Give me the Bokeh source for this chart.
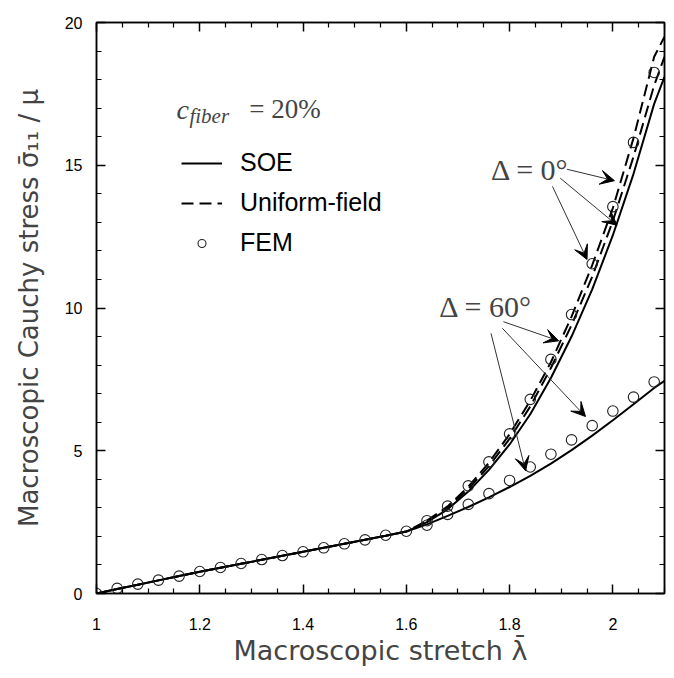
from bokeh.plotting import figure
from bokeh.models import (Range1d, FixedTicker, LinearAxis, Label, Arrow, VeeHead,
                          Legend, LegendItem)
from bokeh.embed import file_html
from bokeh.resources import INLINE

# ---------------- data ----------------
# part shared by every curve (lambda <= 1.6)
lam_common = [1.00, 1.04, 1.08, 1.12, 1.16, 1.20, 1.24, 1.28, 1.32, 1.36,
              1.40, 1.44, 1.48, 1.52, 1.56, 1.60]
line_common = [0.00, 0.16, 0.31, 0.46, 0.61, 0.76, 0.90, 1.04, 1.18, 1.32,
               1.46, 1.60, 1.74, 1.88, 2.02, 2.17]
fem_common = [0.00, 0.18, 0.33, 0.47, 0.61, 0.77, 0.91, 1.05, 1.19, 1.33,
              1.46, 1.60, 1.74, 1.88, 2.04, 2.18]

# branches (lambda > 1.6)
lam_branch = [1.64, 1.68, 1.72, 1.76, 1.80, 1.84, 1.88, 1.92, 1.96, 2.00, 2.04, 2.08, 2.10]
soe_0 = [2.50, 2.95, 3.57, 4.33, 5.22, 6.28, 7.55, 9.00, 10.65, 12.55, 14.70, 17.15, 18.10]
uf_60 = [2.52, 3.00, 3.66, 4.46, 5.42, 6.55, 7.90, 9.40, 11.10, 13.05, 15.30, 17.80, 18.80]
uf_0 = [2.55, 3.05, 3.74, 4.58, 5.58, 6.75, 8.10, 9.70, 11.50, 13.50, 15.95, 18.80, 19.50]
soe_60 = [2.42, 2.72, 3.03, 3.37, 3.73, 4.12, 4.55, 5.02, 5.53, 6.07, 6.63, 7.20, 7.45]

fem_lam_branch = [1.64, 1.68, 1.72, 1.76, 1.80, 1.84, 1.88, 1.92, 1.96, 2.00, 2.04, 2.08]
fem_0 = [2.55, 3.06, 3.77, 4.61, 5.59, 6.80, 8.20, 9.77, 11.55, 13.55, 15.80, 18.25]
fem_60 = [2.39, 2.77, 3.12, 3.50, 3.96, 4.43, 4.88, 5.38, 5.88, 6.39, 6.88, 7.41]

# ticks
x_major = [1.0, 1.2, 1.4, 1.6, 1.8, 2.0]
x_labels = ["1", "1.2", "1.4", "1.6", "1.8", "2"]
x_minor = [1.05, 1.10, 1.15, 1.25, 1.30, 1.35, 1.45, 1.50, 1.55, 1.65, 1.70, 1.75,
           1.85, 1.90, 1.95, 2.05, 2.10]
y_major = [0, 5, 10, 15, 20]
y_minor = [1, 2, 3, 4, 6, 7, 8, 9, 11, 12, 13, 14, 16, 17, 18, 19]

# ---------------- figure ----------------
p = figure(width=666, height=670, x_range=Range1d(1, 2.1), y_range=Range1d(0, 20),
           output_backend="svg", toolbar_location=None,
           min_border_left=96, min_border_right=2, min_border_top=22, min_border_bottom=77)
p.grid.visible = False
p.outline_line_color = "black"
p.outline_line_width = 1.5
p.background_fill_color = "white"
p.border_fill_color = "white"

xt = FixedTicker(ticks=x_major, minor_ticks=x_minor)
yt = FixedTicker(ticks=y_major, minor_ticks=y_minor)

def style_axis(ax, ticker):
    ax.ticker = ticker
    ax.axis_line_color = "black"
    ax.axis_line_width = 1.5
    ax.major_tick_in = 9
    ax.major_tick_out = 0
    ax.minor_tick_in = 5
    ax.minor_tick_out = 0
    ax.major_tick_line_color = "black"
    ax.major_tick_line_width = 1.5
    ax.minor_tick_line_color = "black"
    ax.minor_tick_line_width = 1.2
    ax.major_label_text_font = "Liberation Sans"
    ax.major_label_text_font_size = "16px"
    ax.major_label_text_color = "black"

xa = p.xaxis[0]
style_axis(xa, xt)
xa.major_label_overrides = {v: s for v, s in zip(x_major, x_labels)}
xa.major_label_standoff = 24
xa.axis_label = "Macroscopic stretch \u03bb\u0304"
xa.axis_label_text_font = "DejaVu Sans"
xa.axis_label_text_font_size = "27px"
xa.axis_label_text_font_style = "normal"
xa.axis_label_standoff = 2

ya = p.yaxis[0]
style_axis(ya, yt)
ya.major_label_standoff = 14
ya.axis_label = "Macroscopic Cauchy stress \u03c3\u0304\u2081\u2081 / \u03bc"
ya.axis_label_text_font = "DejaVu Sans"
ya.axis_label_text_font_size = "26px"
ya.axis_label_text_font_style = "normal"
ya.axis_label_standoff = 18

# mirror axes (ticks only) on the right and top
for loc, ticker in (("right", yt), ("above", xt)):
    ax = LinearAxis()
    style_axis(ax, ticker)
    ax.major_label_text_font_size = "1px"
    ax.major_label_text_color = None
    ax.major_label_standoff = 0
    p.add_layout(ax, loc)

# ---------------- curves ----------------
lw = 2
r_soe0 = p.line(lam_common + lam_branch, line_common + soe_0, line_color="black", line_width=lw)
r_soe60 = p.line(lam_common + lam_branch, line_common + soe_60, line_color="black", line_width=lw)
r_uf0 = p.line(lam_branch, uf_0, line_color="black", line_width=lw, line_dash="12 6")
r_uf60 = p.line(lam_branch, uf_60, line_color="black", line_width=lw, line_dash="12 6")
p.line(lam_common + lam_branch[:1], line_common + uf_0[:1], line_color="black",
       line_width=lw, line_dash="12 6")

r_fem = p.scatter(lam_common, fem_common, marker="circle", size=10.5, fill_color=None,
                  line_color="#222222", line_width=1.1)
p.scatter(fem_lam_branch, fem_0, marker="circle", size=10.5, fill_color=None,
          line_color="#222222", line_width=1.1)
p.scatter(fem_lam_branch, fem_60, marker="circle", size=10.5, fill_color=None,
          line_color="#222222", line_width=1.1)

# ---------------- legend ----------------
legend = Legend(items=[LegendItem(label="SOE", renderers=[r_soe0]),
                       LegendItem(label="Uniform-field", renderers=[r_uf0]),
                       LegendItem(label="FEM", renderers=[r_fem])],
                location=(85, 336), glyph_width=41, glyph_height=20, label_height=20,
                spacing=11, label_standoff=18, padding=10,
                border_line_color=None, background_fill_alpha=0,
                label_text_font="Liberation Sans", label_text_font_size="25px",
                label_text_color="black")
p.add_layout(legend)

# ---------------- annotations ----------------
serif = "Liberation Serif"
p.add_layout(Label(x=1.155, y=16.96, text="c", text_font=serif, text_font_style="italic",
                   text_font_size="28px", text_baseline="alphabetic"))
p.add_layout(Label(x=1.180, y=16.73, text="fiber", text_font=serif, text_font_style="italic",
                   text_font_size="21px", text_baseline="alphabetic"))
p.add_layout(Label(x=1.296, y=16.96, text="= 20%", text_font=serif,
                   text_font_size="27px", text_baseline="alphabetic"))

p.add_layout(Label(x=1.764, y=14.84, text="\u0394 = 0\u00b0", text_font=serif,
                   text_font_size="30px", text_baseline="alphabetic"))
p.add_layout(Label(x=1.664, y=10.06, text="\u0394 = 60\u00b0", text_font=serif,
                   text_font_size="30px", text_baseline="alphabetic"))

arrows = [
    (1.911, 14.86, 2.003, 14.46),
    (1.898, 14.55, 2.008, 12.90),
    (1.883, 14.26, 1.950, 11.70),
    (1.788, 9.52, 1.895, 8.85),
    (1.786, 9.29, 1.947, 6.20),
    (1.764, 9.11, 1.831, 4.30),
]
for xs, ys, xe, ye in arrows:
    p.add_layout(Arrow(x_start=xs, y_start=ys, x_end=xe, y_end=ye,
                       line_color="#333333", line_width=1,
                       end=VeeHead(size=14, fill_color="black", line_color="black",
                                   line_width=1)))

open("out.html", "w").write(file_html(p, INLINE))
